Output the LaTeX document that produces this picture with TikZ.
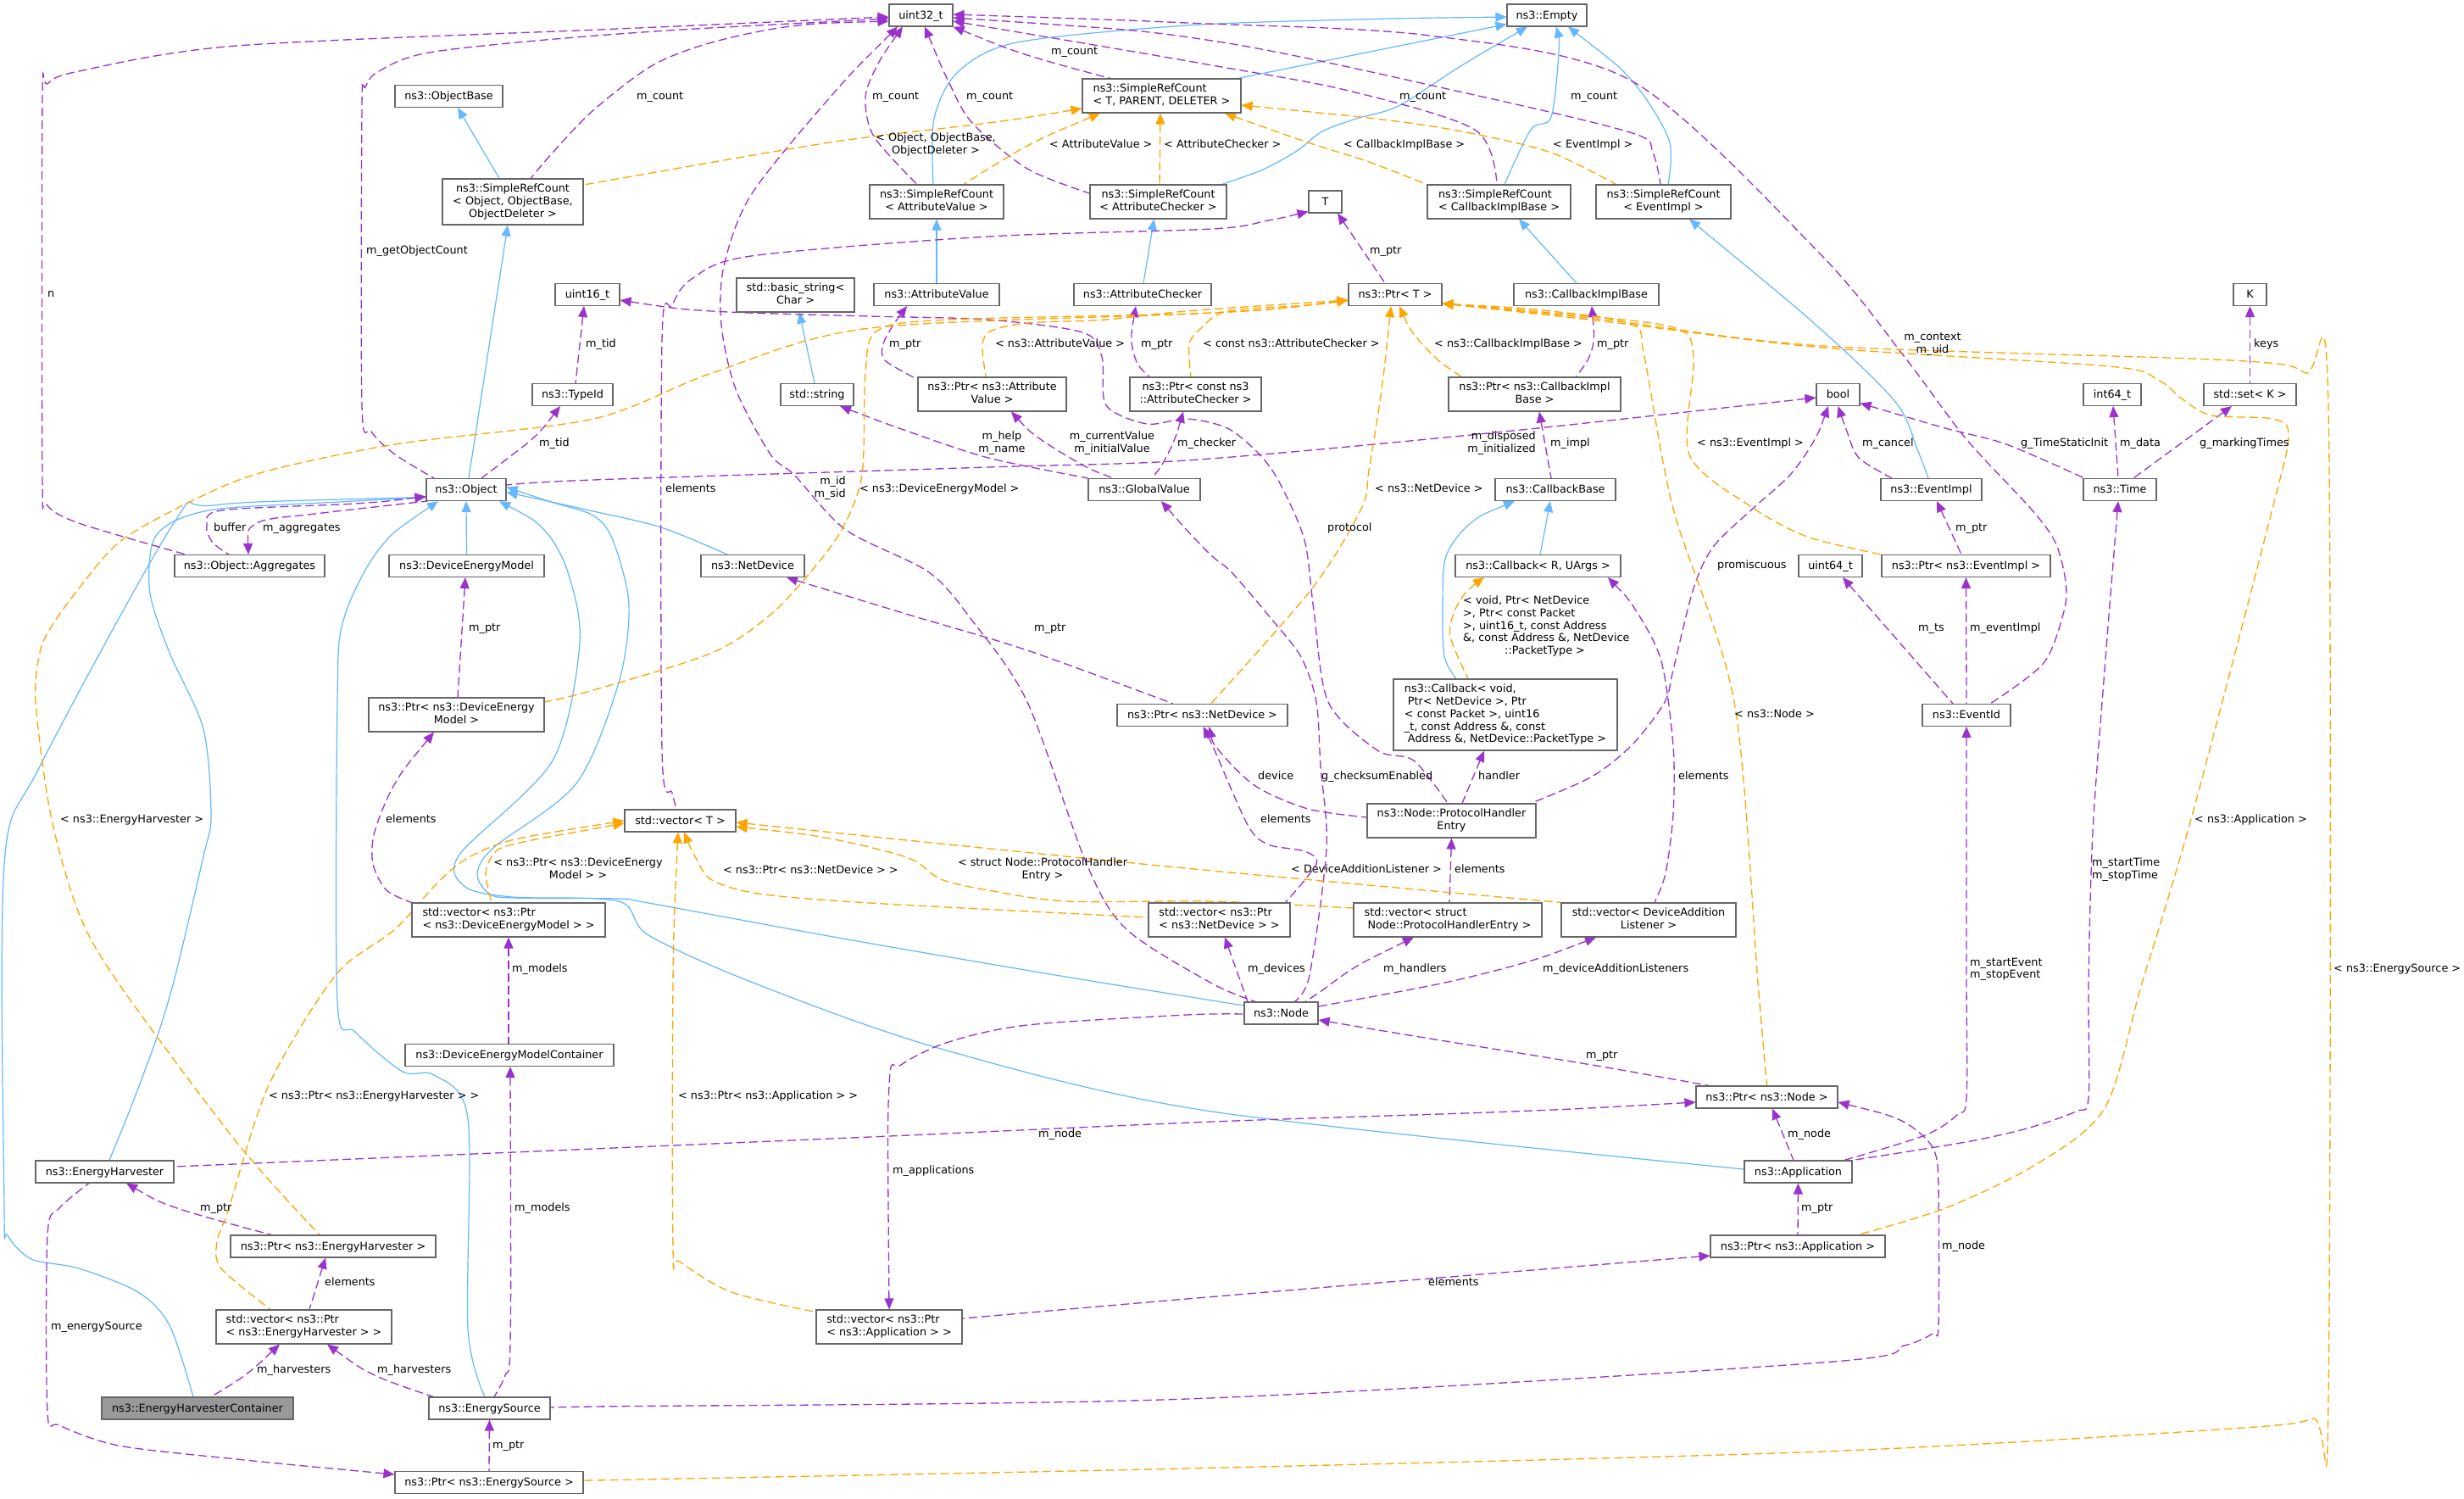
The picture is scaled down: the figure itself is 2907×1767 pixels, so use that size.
\documentclass[tikz,border=0pt]{standalone}
\usepackage{fontspec}
\setmainfont{DejaVu Sans}
\usetikzlibrary{arrows.meta}
\definecolor{inhc}{HTML}{63B8FF}
\definecolor{usec}{HTML}{9A32CD}
\definecolor{tplc}{HTML}{FFA500}
\definecolor{boxc}{HTML}{666666}
\definecolor{hlc}{HTML}{999999}
\newcommand\dfs{\fontsize{12.8}{14.8}\selectfont\lineskiplimit=-20pt\relax}
\newcommand\dstrut{\rule[-3.2pt]{0pt}{15.2pt}}
\pgfdeclarelayer{back}\pgfdeclarelayer{edges}\pgfsetlayers{back,edges,main}
\begin{document}
\begin{tikzpicture}[x=1pt,y=-1pt, >={Triangle[length=13pt,width=11pt]},
 cbox/.style={draw=boxc, fill=white, line width=1.1pt, inner sep=0pt, minimum height=26pt, font=\dfs, align=center, execute at begin node=\dstrut, execute at end node=\dstrut},
 lbl/.style={font=\dfs, inner sep=0pt, anchor=west, execute at begin node=\dstrut, execute at end node=\dstrut},
 inhE/.style={draw=inhc, line width=1.2pt, <-},
 useE/.style={draw=usec, line width=1.3pt, dash pattern=on 10pt off 5pt, <-},
 tplE/.style={draw=tplc, line width=1.3pt, dash pattern=on 10pt off 5pt, <-}]
\begin{pgfonlayer}{back}
\fill[white] (0,0) rectangle (2907,1767);
\end{pgfonlayer}
\useasboundingbox (0,0) rectangle (2907,1767);
% nodes
\node[cbox, minimum width=75] (u32) at (1086.5,18) {uint32\_t};
\node[cbox, minimum width=94] (empty) at (1825,18) {ns3::Empty};
\node[cbox, minimum width=127] (objbase) at (529.5,113.5) {ns3::ObjectBase};
\node[cbox, minimum width=166, minimum height=54] (srcobj) at (605,238) {ns3::SimpleRefCount\\< Object, ObjectBase,\\ObjectDeleter >};
\node[cbox, minimum width=187, minimum height=40, align=left] (srcT) at (1370.5,113) {ns3::SimpleRefCount\\< T, PARENT, DELETER >};
\node[cbox, minimum width=158, minimum height=40] (srcAV) at (1105,238) {ns3::SimpleRefCount\\< AttributeValue >};
\node[cbox, minimum width=161, minimum height=40] (srcAC) at (1366.5,238) {ns3::SimpleRefCount\\< AttributeChecker >};
\node[cbox, minimum width=39] (T) at (1563.5,238) {T};
\node[cbox, minimum width=169, minimum height=40, align=left] (srcCIB) at (1768.5,238) {ns3::SimpleRefCount\\< CallbackImplBase >};
\node[cbox, minimum width=159, minimum height=40] (srcEI) at (1962.5,238) {ns3::SimpleRefCount\\< EventImpl >};
\node[cbox, minimum width=76] (u16) at (693,347.5) {uint16\_t};
\node[cbox, minimum width=95] (typeid) at (675.5,465.5) {ns3::TypeId};
\node[cbox, minimum width=139, minimum height=40] (bstring) at (938.5,348) {std::basic\_string<\\Char >};
\node[cbox, minimum width=148] (attrval) at (1105,347.5) {ns3::AttributeValue};
\node[cbox, minimum width=162] (attrchk) at (1348,347.5) {ns3::AttributeChecker};
\node[cbox, minimum width=110] (ptrT) at (1646,347.5) {ns3::Ptr< T >};
\node[cbox, minimum width=171] (cib) at (1871.5,347.5) {ns3::CallbackImplBase};
\node[cbox, minimum width=39] (K) at (2654.5,347.5) {K};
\node[cbox, minimum width=86] (string) at (964,465.5) {std::string};
\node[cbox, minimum width=175, minimum height=40] (ptrAV) at (1170.5,465) {ns3::Ptr< ns3::Attribute\\Value >};
\node[cbox, minimum width=155, minimum height=40] (ptrAC) at (1410.5,465) {ns3::Ptr< const ns3\\::AttributeChecker >};
\node[cbox, minimum width=203, minimum height=40] (ptrCIB) at (1810.5,465) {ns3::Ptr< ns3::CallbackImpl\\Base >};
\node[cbox, minimum width=51] (bool) at (2168.5,465.5) {bool};
\node[cbox, minimum width=68] (int64) at (2492,465.5) {int64\_t};
\node[cbox, minimum width=109] (set) at (2654.5,465.5) {std::set< K >};
\node[cbox, minimum width=94] (object) at (550,577.5) {ns3::Object};
\node[cbox, minimum width=132] (gv) at (1350,577.5) {ns3::GlobalValue};
\node[cbox, minimum width=142] (cbbase) at (1835,577.5) {ns3::CallbackBase};
\node[cbox, minimum width=119] (eventimpl) at (2278.5,577.5) {ns3::EventImpl};
\node[cbox, minimum width=86] (time) at (2501,577.5) {ns3::Time};
\node[cbox, minimum width=177] (aggr) at (294.5,667.5) {ns3::Object::Aggregates};
\node[cbox, minimum width=183] (dem) at (550.5,667.5) {ns3::DeviceEnergyModel};
\node[cbox, minimum width=122] (netdev) at (888,667.5) {ns3::NetDevice};
\node[cbox, minimum width=195] (cbR) at (1814.5,667.5) {ns3::Callback< R, UArgs >};
\node[cbox, minimum width=75] (u64) at (2159.5,667.5) {uint64\_t};
\node[cbox, minimum width=199] (ptrEI) at (2319.5,667.5) {ns3::Ptr< ns3::EventImpl >};
\node[cbox, minimum width=207, minimum height=40] (ptrDEM) at (538.5,843) {ns3::Ptr< ns3::DeviceEnergy\\Model >};
\node[cbox, minimum width=201] (ptrND) at (1418.5,843.5) {ns3::Ptr< ns3::NetDevice >};
\node[cbox, minimum width=264, minimum height=84, align=left] (cbvoid) at (1776,843) {ns3::Callback< void,\\\hspace*{4pt}Ptr< NetDevice >, Ptr\\< const Packet >, uint16\\\_t, const Address \&, const\\\hspace*{4pt}Address \&, NetDevice::PacketType >};
\node[cbox, minimum width=104] (eventid) at (2320,843.5) {ns3::EventId};
\node[cbox, minimum width=131] (vecT) at (802.5,968) {std::vector< T >};
\node[cbox, minimum width=199, minimum height=40] (phe) at (1712.5,968) {ns3::Node::ProtocolHandler\\Entry};
\node[cbox, minimum width=228, minimum height=40, align=left] (vecDEM) at (600,1085) {std::vector< ns3::Ptr\\< ns3::DeviceEnergyModel > >};
\node[cbox, minimum width=167, minimum height=40, align=left] (vecND) at (1438.5,1085) {std::vector< ns3::Ptr\\< ns3::NetDevice > >};
\node[cbox, minimum width=222, minimum height=40, align=left] (vecPHE) at (1708,1085) {std::vector< struct\\\hspace*{4pt}Node::ProtocolHandlerEntry >};
\node[cbox, minimum width=206, minimum height=40] (vecDAL) at (1945,1085) {std::vector< DeviceAddition\\Listener >};
\node[cbox, minimum width=246] (demc) at (601,1244.5) {ns3::DeviceEnergyModelContainer};
\node[cbox, minimum width=87] (node) at (1511.5,1195) {ns3::Node};
\node[cbox, minimum width=167] (ptrNode) at (2084.5,1294) {ns3::Ptr< ns3::Node >};
\node[cbox, minimum width=127] (app) at (2121.5,1382) {ns3::Application};
\node[cbox, minimum width=163] (eh) at (123.5,1382) {ns3::EnergyHarvester};
\node[cbox, minimum width=242] (ptrEH) at (393,1470) {ns3::Ptr< ns3::EnergyHarvester >};
\node[cbox, minimum width=206] (ptrApp) at (2121,1470) {ns3::Ptr< ns3::Application >};
\node[cbox, minimum width=207, minimum height=40, align=left] (vecEH) at (358.5,1565) {std::vector< ns3::Ptr\\< ns3::EnergyHarvester > >};
\node[cbox, minimum width=172, minimum height=40, align=left] (vecApp) at (1049,1565) {std::vector< ns3::Ptr\\< ns3::Application > >};
\node[cbox, minimum width=226, fill=hlc] (ehc) at (233,1661) {ns3::EnergyHarvesterContainer};
\node[cbox, minimum width=143] (es) at (577.5,1661) {ns3::EnergySource};
\node[cbox, minimum width=222] (ptrES) at (577,1748.5) {ns3::Ptr< ns3::EnergySource >};

\begin{pgfonlayer}{edges}
% inheritance
\draw[inhE] ([xshift=10.5]objbase.south) -- ([xshift=-16]srcobj.north);
\draw[inhE] ([xshift=-6]srcobj.south) -- ([xshift=3]object.north);
\draw[inhE] ([yshift=3]empty.south west) -- ([xshift=-4]srcT.north east);
\draw[inhE] plot[smooth] coordinates {([yshift=-2]empty.west) (1600,23) (1400,30) (1200,50) (1130,85) (1102,140) ([xshift=-4]srcAV.north)};
\draw[inhE] plot[smooth] coordinates {([xshift=-23]empty.south) (1720,80) (1650,125) (1600,140) (1560,155) (1530,178) (1490,200) ([xshift=-6]srcAC.north east)};
\draw[inhE] plot[smooth] coordinates {([xshift=11]empty.south) (1839,61) (1830,138) (1806,153) ([xshift=6.5]srcCIB.north)};
\draw[inhE] plot[smooth] coordinates {([xshift=25]empty.south) (1926,96) (1969,165) ([xshift=5.5]srcEI.north)};
\draw[inhE] (srcAV.south) -- (attrval.north);
\draw[inhE] ([xshift=-5]srcAC.south) -- ([xshift=1]attrchk.north);
\draw[inhE] ([xshift=4.5]bstring.south) -- ([xshift=-3]string.north);
\draw[inhE] ([xshift=23.5]srcCIB.south) -- ([xshift=-11.5]cib.north);
\draw[inhE] plot[smooth] coordinates {([xshift=30.5]srcEI.south) (2150,390) (2237,475) (2262,530) ([xshift=-3.5]eventimpl.north)};
\draw[inhE] ([xshift=-6]cbbase.south) -- ([xshift=2.5]cbR.north);
\draw[inhE] plot[smooth] coordinates {([xshift=-48]cbbase.south) (1735,617) (1706,656) (1702,713) (1704,774) ([xshift=-58]cbvoid.north)};
\draw[inhE] (object.south) -- (dem.north);
\draw[inhE] plot[smooth] coordinates {([yshift=-3]object.east) (700,603) (780,622) ([xshift=-30]netdev.north)};
\draw[inhE] plot[smooth] coordinates {([yshift=3]object.east) (650,592) (700,608) (723,637) (742,713) (730,805) (680,924) (582,1000) (563,1031) (577,1054) (605,1059) (730,1060) (765,1065) (1000,1108) (1245,1150) (1430,1180) ([yshift=9]node.west)};
\draw[inhE] plot[smooth] coordinates {([xshift=39]object.south) (642,625) (670,675) (684,759) (652,897) (542,1008) (549,1046) (605,1058) (730,1063) (765,1103) (891,1160) (1110,1237) (1430,1311) ([yshift=3]app.west)};
\draw[inhE] plot[smooth] coordinates {([xshift=-33]object.south) (447,648) (405,732) (398,828) (398,1181) (419,1217) (475,1264) (512,1268) (552,1319) (552,1567) ([xshift=-5.5]es.north)};
\draw[inhE] plot[smooth] coordinates {([yshift=-9]object.west) (400,592) (260,600) (205,615) (180,640) (177,700) (200,770) (240,860) (249,962) (240,1010) (207,1150) (186,1221) (154,1307) ([xshift=5.5]eh.north)};
\draw[inhE] plot[smooth] coordinates {([yshift=-9]object.west) (251,596) (205,617) (47,904) (5,1019) (5,1425) (9,1457) (37,1485) (93,1496) (163,1524) (200,1563) ([xshift=-5]ehc.north)};
% usage
\draw[useE] plot[smooth] coordinates {([yshift=-2]u32.west) (1000,22) (730,34) (279,54) (93,84) (56,99) (50,120) (50,560) (55,595) (93,617) ([xshift=-75.5]aggr.north)};
\draw[useE] plot[smooth] coordinates {([yshift=-4]u32.west) (730,40) (512,61) (447,84) (431,103) (427,126) (427,478) (438,509) (466,536) ([xshift=-38]object.north)};
\draw[useE] plot[smooth] coordinates {([yshift=-7]u32.west) (933,31) (840,50) (770,77) (700,130) (652,180) ([xshift=21]srcobj.north)};
\draw[useE] plot[smooth] coordinates {([xshift=-21.5]u32.south) (1035,77) (1021,115) (1031,161) ([xshift=-23]srcAV.north)};
\draw[useE] plot[smooth] coordinates {([xshift=4.5]u32.south) (1119,96) (1147,145) (1212,199) ([yshift=10]srcAC.west)};
\draw[useE] plot[smooth] coordinates {(u32.south east) (1212,65) ([xshift=-60.5]srcT.north)};
\draw[useE] plot[smooth] coordinates {([yshift=-7]u32.east) (1430,77) (1591,107) (1740,153) ([xshift=-2.5]srcCIB.north)};
\draw[useE] plot[smooth] coordinates {([yshift=-3]u32.east) (1430,48) (1735,111) (1926,157) (1950,180) ([xshift=-3.5]srcEI.north)};
\draw[useE] plot[smooth] coordinates {([yshift=1]u32.east) (1400,27) (1687,42) (1926,96) (2146,298) (2247,421) (2319,517) (2396,600) (2425,640) (2437,686) (2435,721) (2411,782) ([xshift=28]eventid.north)};
\draw[useE] plot[smooth] coordinates {([xshift=-27.5]u32.south) (979,115) (886,230) (854,314) (851,383) (868,459) (909,536) (937,560) (998,625) (1096,675) (1147,732) (1212,828) (1282,1019) (1329,1096) (1430,1160) ([xshift=-30]node.north)};
\draw[useE] ([xshift=-4]u16.south) -- ([xshift=3.5]typeid.north);
\draw[useE] plot[smooth] coordinates {([yshift=-6.5]u16.east) (840,367) (1026,373) (1165,377) (1277,392) (1300,421) (1305,478) (1353,500) (1400,494) (1448,505) (1486,536) (1510,570) (1539,637) (1550,720) (1567,828) (1625,885) (1668,897) ([xshift=-4.5]phe.north)};
\draw[useE] plot[smooth] coordinates {([xshift=20]gv.south) (1400,625) (1430,656) (1453,675) (1500,730) (1535,775) (1553,828) (1558,904) (1565,1000) (1545,1150) ([xshift=15.5]node.north)};
\draw[useE] plot[smooth] coordinates {([xshift=-14.5]typeid.south) (633,513) (605,536) ([xshift=18]object.north)};
\draw[useE] plot[smooth] coordinates {([xshift=-1.5]aggr.north) (303,617) (372,606) ([xshift=2]object.south west)};
\draw[useE] plot[smooth] coordinates {([yshift=-8]object.west) (419,594) (261,602) (244,621) (251,640) ([xshift=-24.5]aggr.north)};
\draw[useE] plot[smooth] coordinates {([yshift=-3.5]bool.west) (1735,513) (1400,543) (1166,551) (700,566) ([yshift=5.5]object.east)};
\draw[useE] plot[smooth] coordinates {([xshift=-11.5]bool.south) (2140,520) (2112,560) (2070,598) (2022,644) (1998,694) (1974,790) (1964,828) (1926,878) (1878,916) ([xshift=93.5]phe.north)};
\draw[useE] plot[smooth] coordinates {(bool.south) (2179,509) (2193,540) ([xshift=-46.5]eventimpl.north)};
\draw[useE] plot[smooth] coordinates {([yshift=-10]bool.east) (2295,505) (2367,524) ([xshift=-42]time.north)};
\draw[useE] ([xshift=1]int64.south) -- ([xshift=-2]time.north);
\draw[useE] ([xshift=-21.5]set.south) -- ([xshift=16]time.north);
\draw[useE] (K.south) -- (set.north);
\draw[useE] ([xshift=14.5]T.south) -- ([xshift=-12]ptrT.north);
\draw[useE] plot[smooth] coordinates {([yshift=2]T.south west) (1496,260) (1430,270) (1166,279) (886,302) (816,329) (793,360) (781,402) (781,885) (793,935) ([xshift=-4.5]vecT.north)};
\draw[useE] plot[smooth] coordinates {([xshift=-35]attrval.south) (1054,383) (1042,406) (1044,425) ([yshift=-3]ptrAV.north west)};
\draw[useE] plot[smooth] coordinates {([xshift=-8]attrchk.south) (1335,402) (1342,429) ([xshift=-54.5]ptrAC.north)};
\draw[useE] plot[smooth] coordinates {([xshift=27]string.south) (1072,509) (1166,540) (gv.north west)};
\draw[useE] plot[smooth] coordinates {([xshift=22.5]ptrAV.south) (1226,517) (1282,551) ([xshift=-36]gv.north)};
\draw[useE] plot[smooth] coordinates {([xshift=-14.5]ptrAC.south) (1385,520) (1371,548) ([xshift=9]gv.north)};
\draw[useE] plot[smooth] coordinates {([xshift=6.5]cib.south) (1880,402) (1873,425) ([xshift=48.5]ptrCIB.north)};
\draw[useE] ([xshift=5.5]ptrCIB.south) -- ([xshift=-5]cbbase.north);
\draw[useE] plot[smooth] coordinates {([xshift=40]netdev.south) (1072,725) (1212,767) ([xshift=-34.5]ptrND.north)};
\draw[useE] plot[smooth] coordinates {([xshift=8]ptrND.south) (1438,885) (1481,927) (1543,954) ([yshift=4]phe.west)};
\draw[useE] plot[smooth] coordinates {([xshift=1]ptrND.south) (1433,885) (1472,973) (1496,996) (1539,1004) (1553,1019) ([xshift=-6]vecND.north east)};
\draw[useE] ([xshift=-25]cbvoid.south) -- ([xshift=12.5]phe.north);
\draw[useE] plot[smooth] coordinates {([xshift=82.5]cbR.south) (1930,720) (1960,780) (1974,880) (1974,960) (1965,1030) ([xshift=7]vecDAL.north)};
\draw[useE] (phe.south) -- ([xshift=2]vecPHE.north);
\draw[useE] ([xshift=6.5]vecND.south) -- ([xshift=-39.5]node.north);
\draw[useE] plot[smooth] coordinates {([xshift=-40]vecPHE.south) (1600,1140) (1560,1168) ([xshift=28.5]node.north)};
\draw[useE] plot[smooth] coordinates {([xshift=-62]vecDAL.south) (1800,1135) (1700,1160) ([yshift=8]node.east)};
\draw[useE] (ptrEI.south) -- (eventid.north);
\draw[useE] ([xshift=6.5]eventimpl.south) -- ([xshift=-5.5]ptrEI.north);
\draw[useE] ([xshift=14.5]u64.south) -- ([xshift=-16]eventid.north);
\draw[useE] plot[smooth] coordinates {(eventid.south) (2320,1150) (2320,1295) (2309,1315) (2271,1339) ([xshift=-10]app.north east)};
\draw[useE] plot[smooth] coordinates {([xshift=-2]time.south) (2483,790) (2469,981) (2464,1160) (2464,1295) (2449,1311) (2391,1331) (2319,1347) (app.north east)};
\draw[useE] ([xshift=6.5]ptrNode.south) -- ([xshift=-5.5]app.north);
\draw[useE] plot[smooth] coordinates {([yshift=-8]node.east) (1687,1225) (1878,1256) ([xshift=16]ptrNode.north west)};
\draw[useE] plot[smooth] coordinates {([yshift=-6]ptrNode.west) (1783,1311) (1430,1323) (1049,1340) (700,1355) ([yshift=6]eh.east)};
\draw[useE] plot[smooth] coordinates {([yshift=-6]ptrNode.east) (2237,1319) (2268,1339) (2283,1360) (2287,1400) (2287,1563) (2280,1573) (2247,1587) (2150,1607) (1400,1650) (700,1659) (es.east)};
\draw[useE] plot[smooth] coordinates {(vecApp.north) (1049,1280) (1063,1256) (1119,1229) (1212,1209) (1400,1197) ([yshift=-1]node.west)};
\draw[useE] plot[smooth] coordinates {([yshift=-11]ptrApp.west) (1735,1504) (1400,1532) ([yshift=10]vecApp.east)};
\draw[useE] (app.south) -- (ptrApp.north);
\draw[useE] ([xshift=-1.5]dem.south) -- ([xshift=1.5]ptrDEM.north);
\draw[useE] plot[smooth] coordinates {([xshift=-26.5]ptrDEM.south) (466,924) (442,981) (440,1019) (456,1050) (vecDEM.north west)};
\draw[useE] (vecDEM.south) -- ([xshift=-1]demc.north);
\draw[useE] plot[smooth] coordinates {([xshift=1]demc.south) (602,1583) (596,1622) ([xshift=5.5]es.north)};
\draw[useE] plot[smooth] coordinates {([xshift=-28.5]vecEH.south) (289,1622) ([xshift=16]ehc.north)};
\draw[useE] plot[smooth] coordinates {([xshift=27.5]vecEH.south) (442,1622) ([xshift=6]es.north west)};
\draw[useE] ([xshift=-9]ptrEH.south) -- ([xshift=6.5]vecEH.north);
\draw[useE] plot[smooth] coordinates {([xshift=25.5]eh.south) (209,1425) ([xshift=49]ptrEH.north west)};
\draw[useE] (es.south) -- (ptrES.north);
\draw[useE] plot[smooth] coordinates {([yshift=9.5]ptrES.west) (279,1721) (140,1705) (70,1681) (56,1665) (56,1457) (70,1425) ([xshift=-18.5]eh.south)};
% templates
\draw[tplE] plot[smooth] coordinates {([yshift=-15]srcT.west) (1166,145) (979,168) (700,216) ([yshift=20]srcobj.east)};
\draw[tplE] plot[smooth] coordinates {([xshift=-72.5]srcT.south) (1212,172) ([xshift=32]srcAV.north)};
\draw[tplE] ([xshift=-1.5]srcT.south) -- ([xshift=1.5]srcAC.north);
\draw[tplE] plot[smooth] coordinates {([xshift=74.5]srcT.south) (1543,168) (1615,191) (srcCIB.north west)};
\draw[tplE] plot[smooth] coordinates {([yshift=-11]srcT.east) (1639,142) (1735,157) (1830,180) ([xshift=24]srcEI.north west)};
\draw[tplE] plot[smooth] coordinates {([yshift=-6.5]ptrT.west) (1400,367) (1305,377) (1212,381) (1170,390) (1159,406) ([xshift=-7.5]ptrAV.north)};
\draw[tplE] plot[smooth] coordinates {([yshift=-6.5]ptrT.west) (1543,360) (1448,367) (1417,387) (1403,406) ([xshift=-5.5]ptrAC.north)};
\draw[tplE] plot[smooth] coordinates {([xshift=5]ptrT.south) (1668,394) (1697,425) ([xshift=16]ptrCIB.north west)};
\draw[tplE] plot[smooth] coordinates {([yshift=-6.5]ptrT.west) (1430,369) (1119,377) (1035,390) (1021,440) (1017,560) (993,625) (956,675) (909,725) (840,770) (700,814) ([yshift=15]ptrDEM.east)};
\draw[tplE] plot[smooth] coordinates {([xshift=-5]ptrT.south) (1630,459) (1615,555) (1606,600) (1548,694) ([xshift=10]ptrND.north)};
\draw[tplE] plot[smooth] coordinates {([yshift=-10.5]ptrT.east) (1830,369) (1974,386) (1998,421) (1993,536) (2065,597) (2132,633) ([yshift=13.5]ptrEI.west)};
\draw[tplE] plot[smooth] coordinates {([yshift=-10.5]ptrT.east) (1830,367) (1926,383) (1940,421) (1974,600) (2046,828) (2074,1160) (ptrNode.north)};
\draw[tplE] plot[smooth] coordinates {([yshift=-10.5]ptrT.east) (1900,380) (2150,410) (2488,432) (2546,448) (2575,471) (2609,490) (2681,494) (2700,513) (2681,600) (2585,966) (2527,1160) (2483,1307) (2401,1374) (2295,1425) ([xshift=-33]ptrApp.north east)};
\draw[tplE] plot[smooth] coordinates {([yshift=-10.5]ptrT.east) (1900,378) (2150,408) (2633,425) (2720,440) (2747,482) (2747,1650) (2729,1673) (2633,1685) (2150,1712) (1400,1732) (700,1746) ([yshift=2.5]ptrES.east)};
\draw[tplE] plot[smooth] coordinates {([yshift=-6.5]ptrT.west) (1430,369) (1026,387) (840,440) (700,494) (466,524) (303,559) (210,599) (140,640) (93,694) (60,740) (47,770) (42,828) (60,962) (93,1077) (140,1160) (279,1347) ([xshift=-16]ptrEH.north)};
\draw[tplE] plot[smooth] coordinates {([yshift=-3]vecT.west) (605,996) (582,1008) (573,1031) ([xshift=-20]vecDEM.north)};
\draw[tplE] plot[smooth] coordinates {([xshift=4.5]vecT.south) (821,1012) (840,1038) (895,1054) (1026,1065) ([yshift=3]vecND.west)};
\draw[tplE] plot[smooth] coordinates {([yshift=-7]vecT.east) (979,989) (1072,1012) (1110,1037) (1166,1050) (1259,1063) (1430,1063) ([yshift=14]vecPHE.west)};
\draw[tplE] plot[smooth] coordinates {([yshift=-2]vecT.east) (1119,996) (1430,1027) (vecDAL.north west)};
\draw[tplE] plot[smooth] coordinates {(vecT.west) (559,1008) (466,1096) (396,1150) (317,1280) (270,1425) (256,1465) (261,1496) ([xshift=-39.5]vecEH.north)};
\draw[tplE] plot[smooth] coordinates {([xshift=-2.5]vecT.south) (794,1160) (794,1473) (802,1488) (863,1524) ([yshift=-3]vecApp.north west)};
\draw[tplE] plot[smooth] coordinates {([xshift=-63.5]cbR.south) (1730,698) (1716,721) (1711,751) ([xshift=-44]cbvoid.north)};
\end{pgfonlayer}

% labels
\node[lbl] at (56,346) {n};
\node[lbl] at (432,295) {m\_getObjectCount};
\node[lbl] at (751,113) {m\_count};
\node[lbl] at (1029,113) {m\_count};
\node[lbl] at (1140,113) {m\_count};
\node[lbl] at (1240,60) {m\_count};
\node[lbl] at (1651,113) {m\_count};
\node[lbl] at (1853,113) {m\_count};
\node[lbl, anchor=center, align=center] at (2280,406) {m\_context\\m\_uid};
\node[lbl, anchor=east, align=right] at (998,575.5) {m\_id\\m\_sid};
\node[lbl] at (691,405) {m\_tid};
\node[lbl] at (636,522) {m\_tid};
\node[lbl] at (1566,622) {protocol};
\node[lbl] at (1559,915) {g\_checksumEnabled};
\node[lbl] at (252,622) {buffer};
\node[lbl] at (310,622) {m\_aggregates};
\node[lbl, anchor=east, align=right] at (1812,522.5) {m\_disposed\\m\_initialized};
\node[lbl] at (2026,666) {promiscuous};
\node[lbl] at (2197,522) {m\_cancel};
\node[lbl] at (2384,522) {g\_TimeStaticInit};
\node[lbl] at (2501,522) {m\_data};
\node[lbl] at (2595,522) {g\_markingTimes};
\node[lbl] at (2659,405) {keys};
\node[lbl] at (1616,295) {m\_ptr};
\node[lbl] at (785,576) {elements};
\node[lbl] at (1049,405) {m\_ptr};
\node[lbl] at (1346,405) {m\_ptr};
\node[lbl, anchor=center, align=center] at (1182,522.5) {m\_help\\m\_name};
\node[lbl, anchor=center, align=center] at (1312,522.5) {m\_currentValue\\m\_initialValue};
\node[lbl] at (1389,522) {m\_checker};
\node[lbl] at (1884,405) {m\_ptr};
\node[lbl] at (1829,522) {m\_impl};
\node[lbl] at (1220,740) {m\_ptr};
\node[lbl] at (1484,915) {device};
\node[lbl] at (1487,966) {elements};
\node[lbl] at (1744,915) {handler};
\node[lbl] at (1980,915) {elements};
\node[lbl] at (1716,1025) {elements};
\node[lbl] at (1472,1142) {m\_devices};
\node[lbl] at (1632,1142) {m\_handlers};
\node[lbl] at (1820,1142) {m\_deviceAdditionListeners};
\node[lbl] at (2324,740) {m\_eventImpl};
\node[lbl] at (2307,622) {m\_ptr};
\node[lbl] at (2263,740) {m\_ts};
\node[lbl, align=left] at (2324,1143.5) {m\_startEvent\\m\_stopEvent};
\node[lbl, align=left] at (2468,1025.5) {m\_startTime\\m\_stopTime};
\node[lbl] at (2109,1337) {m\_node};
\node[lbl] at (1871,1244) {m\_ptr};
\node[lbl] at (1225,1337) {m\_node};
\node[lbl] at (2291,1469) {m\_node};
\node[lbl] at (1053,1380) {m\_applications};
\node[lbl] at (1685,1512) {elements};
\node[lbl] at (2125,1424) {m\_ptr};
\node[lbl] at (553,740) {m\_ptr};
\node[lbl] at (455,966) {elements};
\node[lbl] at (604,1142) {m\_models};
\node[lbl] at (607,1424) {m\_models};
\node[lbl] at (303,1615) {m\_harvesters};
\node[lbl] at (445,1615) {m\_harvesters};
\node[lbl] at (383,1512) {elements};
\node[lbl] at (236,1424) {m\_ptr};
\node[lbl] at (581,1704) {m\_ptr};
\node[lbl] at (60,1564) {m\_energySource};
\node[lbl, anchor=center, align=center] at (1104,171) {< Object, ObjectBase,\\ObjectDeleter >};
\node[lbl] at (1238,170) {< AttributeValue >};
\node[lbl] at (1373,170) {< AttributeChecker >};
\node[lbl] at (1585,170) {< CallbackImplBase >};
\node[lbl] at (1832,170) {< EventImpl >};
\node[lbl] at (1174,405) {< ns3::AttributeValue >};
\node[lbl] at (1419,405) {< const ns3::AttributeChecker >};
\node[lbl] at (1692,405) {< ns3::CallbackImplBase >};
\node[lbl] at (1014,576) {< ns3::DeviceEnergyModel >};
\node[lbl] at (1622,576) {< ns3::NetDevice >};
\node[lbl] at (2002,522) {< ns3::EventImpl >};
\node[lbl] at (2046,842) {< ns3::Node >};
\node[lbl] at (2589,966) {< ns3::Application >};
\node[lbl] at (2753,1142) {< ns3::EnergySource >};
\node[lbl] at (71,966) {< ns3::EnergyHarvester >};
\node[lbl, anchor=center, align=center] at (682,1025.5) {< ns3::Ptr< ns3::DeviceEnergy\\Model > >};
\node[lbl] at (853,1026) {< ns3::Ptr< ns3::NetDevice > >};
\node[lbl, anchor=center, align=center] at (1230,1025.5) {< struct Node::ProtocolHandler\\Entry >};
\node[lbl] at (1523,1025) {< DeviceAdditionListener >};
\node[lbl] at (317,1292) {< ns3::Ptr< ns3::EnergyHarvester > >};
\node[lbl] at (800,1292) {< ns3::Ptr< ns3::Application > >};
\node[lbl, anchor=north west, align=left] at (1726,702.5) {< void, Ptr< NetDevice\\>, Ptr< const Packet\\>, uint16\_t, const Address\\\&, const Address \&, NetDevice\\\hspace*{49pt}::PacketType >};
\end{tikzpicture}
\end{document}
